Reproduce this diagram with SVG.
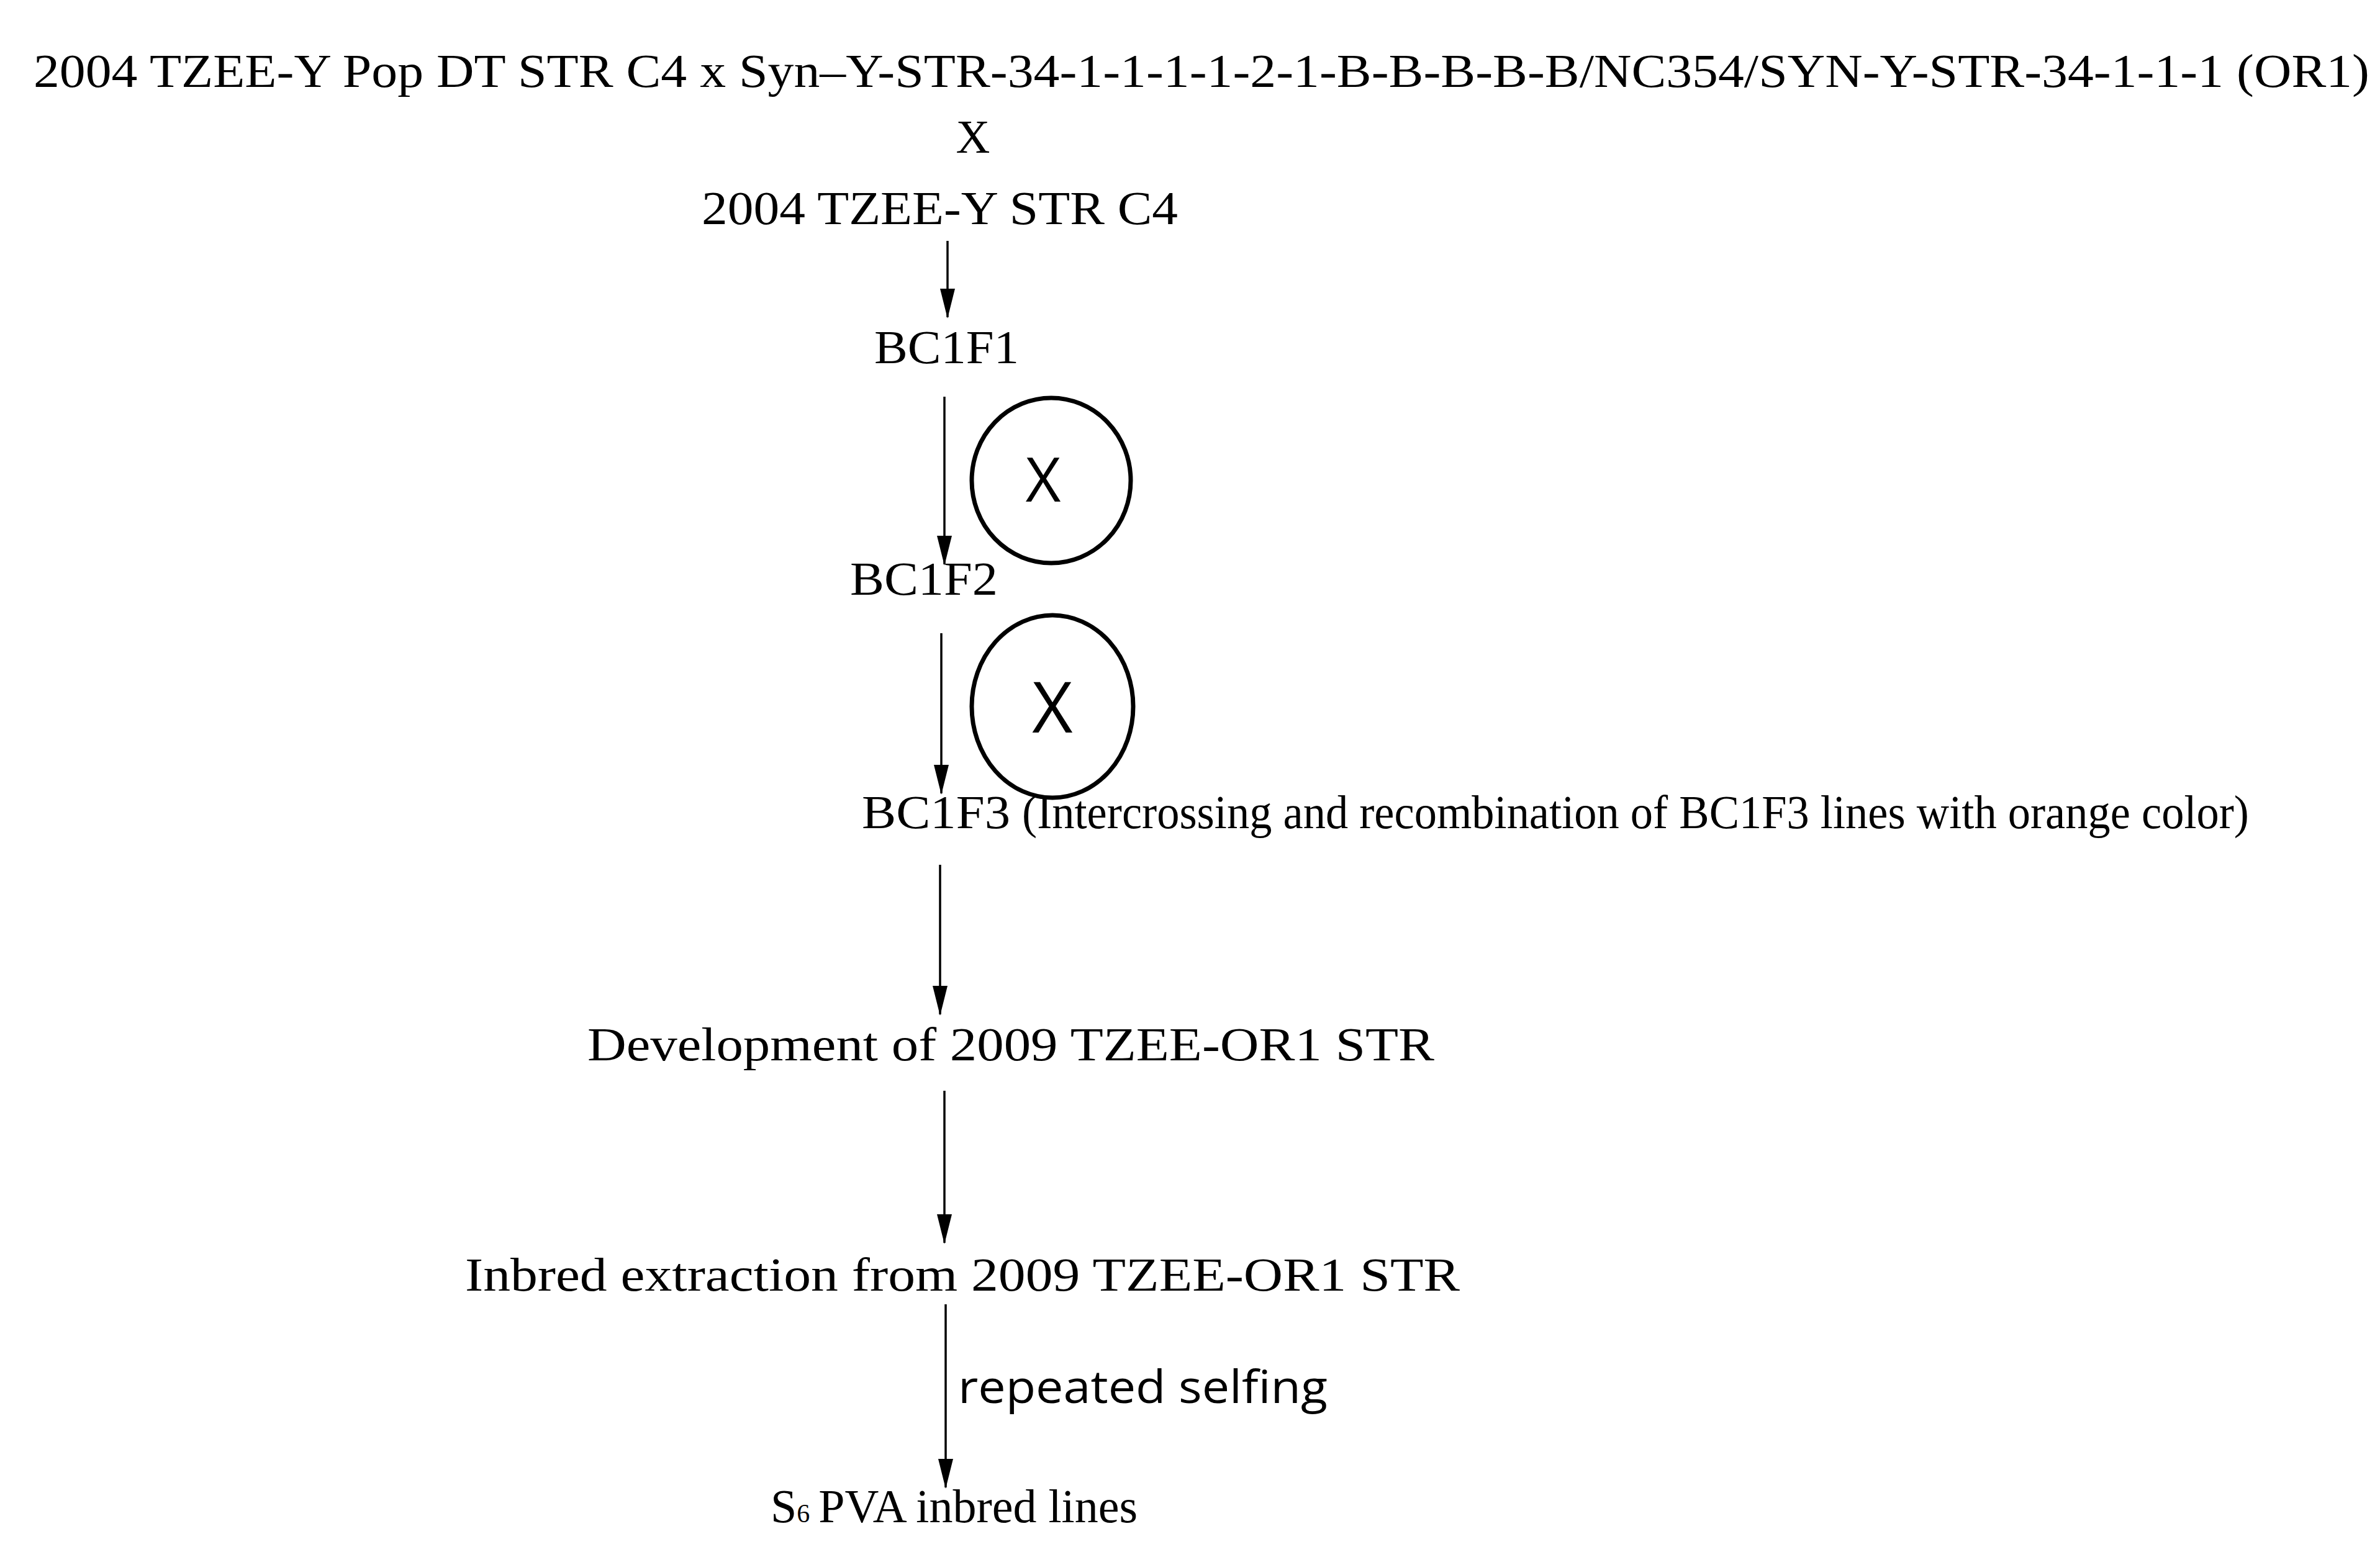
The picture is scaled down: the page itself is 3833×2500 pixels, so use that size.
<svg xmlns="http://www.w3.org/2000/svg" width="3833" height="2500" viewBox="0 0 3833 2500">
<style>
.t{font-family:"Liberation Serif","DejaVu Serif",serif;font-size:76px;fill:#000}
.s{font-family:"Open Sans","Liberation Sans",sans-serif;fill:#000}
.c{stroke:#000;stroke-width:3.5;fill:none}
.o{stroke:#000;stroke-width:7;fill:none}
</style>
<defs><marker id="a" markerUnits="userSpaceOnUse" markerWidth="24" markerHeight="48" refX="12" refY="46" orient="auto-start-reverse" viewBox="0 0 24 48"><path d="M0,0 L24,0 L12,48 Z" transform="rotate(0)" fill="#000"/></marker>
<marker id="b" markerUnits="userSpaceOnUse" markerWidth="48" markerHeight="24" refX="46" refY="12" orient="auto" viewBox="0 0 48 24"><path d="M0,0 L48,12 L0,24 Z" fill="#000"/></marker></defs>
<g id="connectors">
<line class="c" x1="1526" y1="388" x2="1526" y2="511" marker-end="url(#b)"/>
<line class="c" x1="1521" y1="639" x2="1521" y2="909" marker-end="url(#b)"/>
<line class="c" x1="1516" y1="1020" x2="1516" y2="1278" marker-end="url(#b)"/>
<line class="c" x1="1514" y1="1393" x2="1514" y2="1634" marker-end="url(#b)"/>
<line class="c" x1="1521" y1="1757" x2="1521" y2="2002" marker-end="url(#b)"/>
<line class="c" x1="1523" y1="2101" x2="1523" y2="2396" marker-end="url(#b)"/>
</g>
<g id="parents">
<text class="t" x="54" y="140" textLength="3762" lengthAdjust="spacingAndGlyphs">2004 TZEE-Y Pop DT STR C4 x Syn–Y-STR-34-1-1-1-1-2-1-B-B-B-B-B/NC354/SYN-Y-STR-34-1-1-1 (OR1)</text>
<text class="t" x="1567" y="246" text-anchor="middle">X</text>
<text class="t" x="1130" y="361" textLength="767" lengthAdjust="spacingAndGlyphs">2004 TZEE-Y STR C4</text>
</g>
<g id="bc1f1"><text class="t" x="1408" y="585" textLength="233" lengthAdjust="spacingAndGlyphs">BC1F1</text></g>
<g id="self1"><ellipse class="o" cx="1693" cy="774" rx="128" ry="133"/><text class="s" x="1680" y="808" font-size="98" text-anchor="middle">X</text></g>
<g id="bc1f2"><text class="t" x="1369" y="958" textLength="238" lengthAdjust="spacingAndGlyphs">BC1F2</text></g>
<g id="self2"><ellipse class="o" cx="1695" cy="1138" rx="130" ry="147"/><text class="s" x="1695" y="1180" font-size="113" text-anchor="middle">X</text></g>
<g id="bc1f3"><text class="t" x="1388" y="1334" textLength="239" lengthAdjust="spacingAndGlyphs">BC1F3</text>
<text class="t" x="1646" y="1334" font-size="62" textLength="1976" lengthAdjust="spacingAndGlyphs">(Intercrossing and recombination of BC1F3 lines with orange color)</text></g>
<g id="dev"><text class="t" x="946" y="1708" textLength="1364" lengthAdjust="spacingAndGlyphs">Development of 2009 TZEE-OR1 STR</text></g>
<g id="inbred"><text class="t" x="749" y="2079" textLength="1602" lengthAdjust="spacingAndGlyphs">Inbred extraction from 2009 TZEE-OR1 STR</text></g>
<text class="s" x="1543" y="2260" font-size="74" textLength="595" lengthAdjust="spacingAndGlyphs">repeated selfing</text>
<g id="s6"><text class="t" x="1241" y="2452">S<tspan font-size="42">6</tspan><tspan dx="14">PVA inbred lines</tspan></text></g>
</svg>
